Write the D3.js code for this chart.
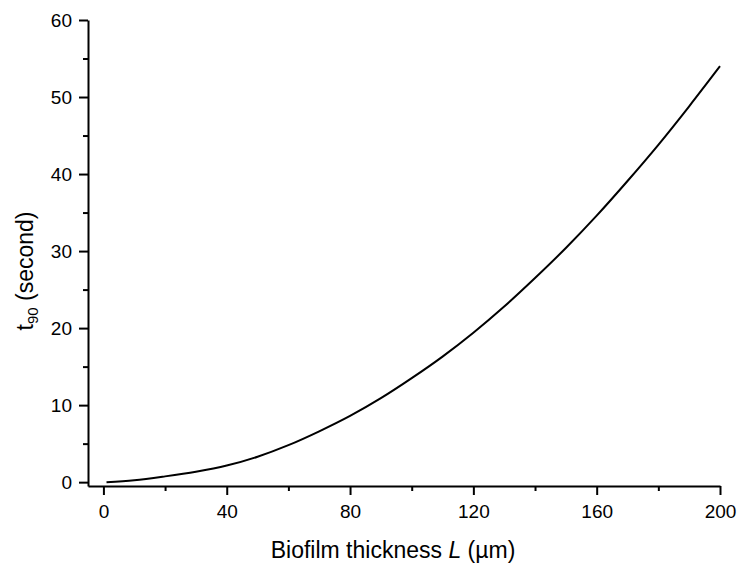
<!DOCTYPE html>
<html>
<head>
<meta charset="utf-8">
<script src="https://cdn.jsdelivr.net/npm/d3@7"></script>
<style>
  html, body { margin: 0; padding: 0; background: #fff; }
  svg { display: block; }
  text { font-family: "Liberation Sans", Arial, sans-serif; fill: #000; }
</style>
</head>
<body>
<svg id="chart" width="738" height="564"></svg>
<script>
// Biofilm thickness L (µm)
const thickness = [1, 10, 20, 30, 40, 50, 60, 70, 80, 90, 100, 110, 120, 130, 140, 150, 160, 170, 180, 190, 200];
// t90 (s)
const t90 = [0, 0.25, 0.75, 1.35, 2.15, 3.3, 4.8, 6.6, 8.6, 10.9, 13.5, 16.3, 19.4, 22.8, 26.5, 30.4, 34.6, 39.1, 43.8, 48.8, 54.0];

const xMajor = [0, 40, 80, 120, 160, 200];
const xMinor = [20, 60, 100, 140, 180];
const yMajor = [0, 10, 20, 30, 40, 50, 60];
const yMinor = [5, 15, 25, 35, 45, 55];

const svg = d3.select("#chart");

const x = d3.scaleLinear().domain([-5, 200]).range([88, 720]);
const y = d3.scaleLinear().domain([-0.5, 60]).range([486, 20]);

const axisColor = "#000";

// minor ticks first (no labels)
svg.append("g")
  .attr("transform", `translate(0,${y.range()[0]})`)
  .call(d3.axisBottom(x).tickValues(xMinor).tickSize(5).tickSizeOuter(0).tickFormat(""))
  .call(g => g.select(".domain").remove());
svg.append("g")
  .attr("transform", `translate(${x.range()[0]},0)`)
  .call(d3.axisLeft(y).tickValues(yMinor).tickSize(5).tickSizeOuter(0).tickFormat(""))
  .call(g => g.select(".domain").remove());

// major axes
const xAxis = svg.append("g")
  .attr("transform", `translate(0,${y.range()[0]})`)
  .call(d3.axisBottom(x).tickValues(xMajor).tickSize(9).tickSizeOuter(0).tickPadding(6));
const yAxis = svg.append("g")
  .attr("transform", `translate(${x.range()[0]},0)`)
  .call(d3.axisLeft(y).tickValues(yMajor).tickSize(9).tickSizeOuter(0).tickPadding(7));

svg.selectAll(".tick line, .domain")
  .attr("stroke", axisColor)
  .attr("stroke-width", 2);
svg.selectAll(".tick text")
  .style("font-family", '"Liberation Sans", Arial, sans-serif')
  .style("font-size", "19px")
  .attr("fill", "#000");
xAxis.selectAll(".tick text").attr("dy", "0.9em");

// curve
const line = d3.line()
  .x((d, i) => x(thickness[i]))
  .y(d => y(d))
  .curve(d3.curveMonotoneX);

svg.append("path")
  .datum(t90)
  .attr("d", line)
  .attr("fill", "none")
  .attr("stroke", "#000")
  .attr("stroke-width", 2);

// x axis title
const xt = svg.append("text")
  .attr("x", 393)
  .attr("y", 558)
  .attr("text-anchor", "middle")
  .style("font-size", "23px");
xt.append("tspan").text("Biofilm thickness ");
xt.append("tspan").style("font-style", "italic").text("L");
xt.append("tspan").text(" (\u00b5m)");

// y axis title
const yt = svg.append("text")
  .attr("transform", "translate(33,271) rotate(-90)")
  .attr("text-anchor", "middle")
  .style("font-size", "23px");
yt.append("tspan").text("t");
yt.append("tspan").attr("dy", 5).style("font-size", "15px").text("90");
yt.append("tspan").attr("dy", -5).text(" (second)");
</script>
</body>
</html>
